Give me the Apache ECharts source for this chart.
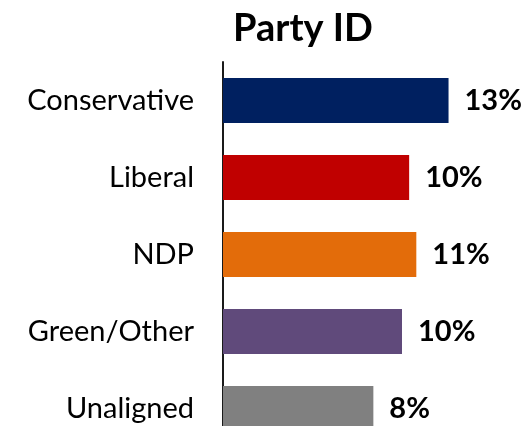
<!DOCTYPE html>
<html>
<head>
<meta charset="utf-8">
<script src="https://cdn.jsdelivr.net/npm/echarts@6/dist/echarts.min.js"></script>
<style>
  html, body { margin: 0; padding: 0; background: #fff; }
  #chart { width: 526px; height: 426px; }
</style>
</head>
<body>
<div id="chart"></div>
<script>
// Party identification shares (percent)
const categories = ['Conservative', 'Liberal', 'NDP', 'Green/Other', 'Unaligned'];
const values = [12.6, 10.4, 10.8, 10.0, 8.4];
const barColors = ['#002060', '#C00000', '#E36C0A', '#604A7B', '#808080'];

const chart = echarts.init(document.getElementById('chart'));

chart.setOption({
  backgroundColor: '#ffffff',
  animation: false,
  title: {
    text: 'Party ID',
    left: 298,
    textAlign: 'center',
    top: 5,
    textStyle: { fontFamily: 'Lato', fontWeight: 'bold', fontSize: 38, color: '#000' }
  },
  // the last band runs past the lower edge of the canvas
  grid: { left: 223, width: 286.4, top: 62, height: 385, containLabel: false, outerBoundsMode: 'none' },
  xAxis: {
    type: 'value',
    min: 0,
    max: 16,
    show: false
  },
  yAxis: {
    type: 'category',
    inverse: true,
    data: categories,
    axisLine: { show: true, lineStyle: { color: '#1a1a1a', width: 2 } },
    axisTick: { show: false },
    axisLabel: {
      margin: 29,
      fontFamily: 'Lato',
      fontSize: 29,
      color: '#000'
    }
  },
  series: [{
    type: 'bar',
    data: values.map((v, i) => ({ value: v, itemStyle: { color: barColors[i] } })),
    barWidth: 45,
    label: {
      show: true,
      position: 'right',
      distance: 16,
      formatter: p => Math.round(p.value) + '%',
      fontFamily: 'Lato',
      fontWeight: 'bold',
      fontSize: 29,
      color: '#000'
    }
  }]
});
</script>
</body>
</html>
